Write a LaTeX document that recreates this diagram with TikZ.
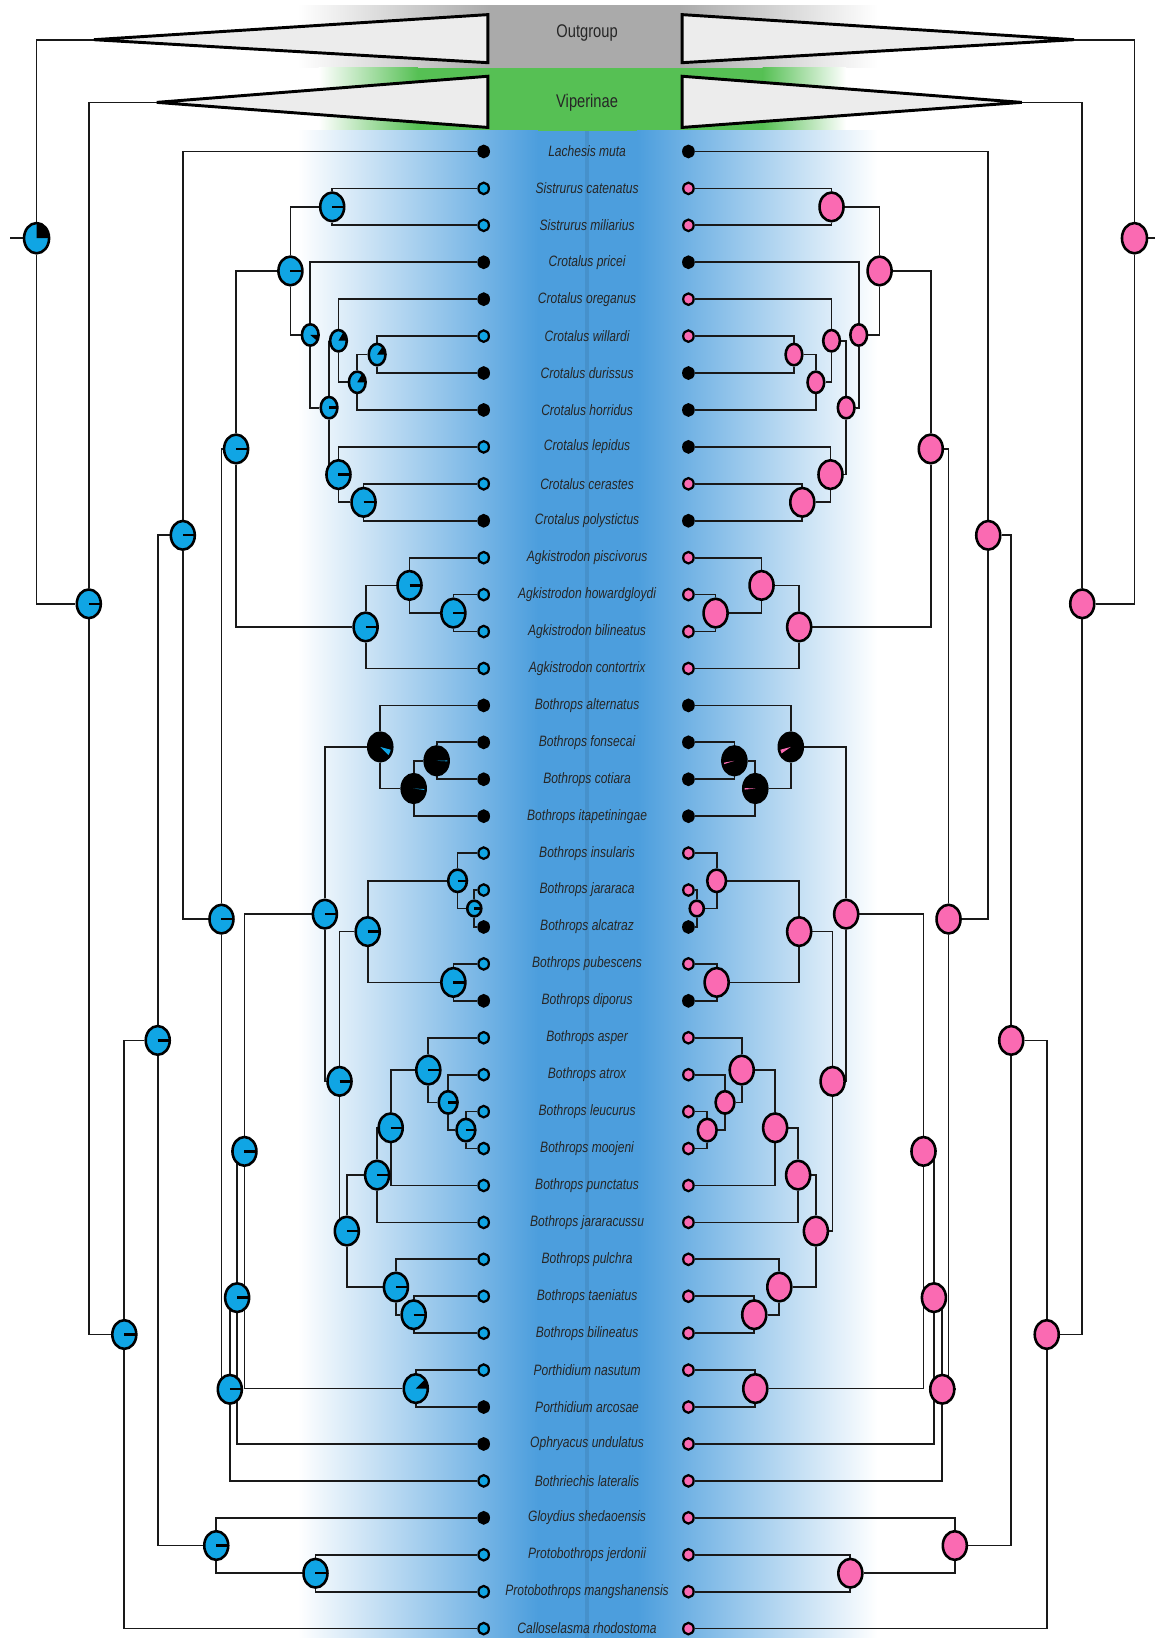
\documentclass[tikz,border=0pt]{standalone}
\usepackage{fontspec}
\setmainfont{Liberation Sans}
\newfontfamily\narrowsans{Liberation Sans}[FakeStretch=0.8]
\usetikzlibrary{shapes.geometric}

\definecolor{pieblue}{RGB}{16,165,228}
\definecolor{piepink}{RGB}{250,106,178}
\definecolor{bandblue}{RGB}{76,158,221}
\definecolor{bandgray}{RGB}{170,170,170}
\definecolor{bandgreen}{RGB}{86,192,84}
\definecolor{cladefill}{RGB}{236,236,236}

\pgfdeclarelayer{back}
\pgfdeclarelayer{lines}
\pgfsetlayers{back,lines,main}

\tikzset{
  branch/.style={line width=0.95pt, draw=black!90},
  anc/.style={ellipse, draw=black, line width=1.4pt, inner sep=0pt,
    minimum width=0.46cm, minimum height=0.55cm},
  bigpie/.style={minimum width=0.48cm, minimum height=0.58cm},
  stdpie/.style={},
  midpie/.style={minimum width=0.36cm, minimum height=0.43cm},
  smallpie/.style={minimum width=0.32cm, minimum height=0.41cm},
  tinypie/.style={minimum width=0.27cm, minimum height=0.3cm},
  leaf/.style={ellipse, draw=black, line width=1.2pt, inner sep=0pt,
    minimum width=0.2cm, minimum height=0.22cm},
  sliver/.style={path picture={\draw[line width=1.3pt]
    (path picture bounding box.center) -- (path picture bounding box.east);}},
  wedge/.style n args={3}{path picture={\fill[#1]
    (path picture bounding box.center) -- ++(#2:1cm)
    arc[start angle=#2, end angle=#3, radius=1cm] -- cycle;}},
  bpie/.style={fill=pieblue, sliver},
  ppie/.style={fill=piepink},
  % mixed states
  lrootpie/.style={fill=pieblue, wedge={black}{0}{90}},
  lpripie/.style={fill=pieblue, wedge={black}{-40}{0}},
  lorepie/.style={fill=pieblue, wedge={black}{0}{60}},
  lwdpie/.style={fill=pieblue, wedge={black}{0}{55}},
  lwdhpie/.style={fill=pieblue, wedge={black}{0}{60}},
  lporpie/.style={fill=pieblue, wedge={black}{0}{45}},
  laltpie/.style={fill=black, wedge={pieblue}{-45}{-15}},
  lfcpie/.style={fill=black, wedge={pieblue}{-3}{2}},
  litapie/.style={fill=black, wedge={pieblue}{-8}{-3}},
  raltpie/.style={fill=black, wedge={piepink}{195}{215}},
  rfcpie/.style={fill=black, wedge={piepink}{190}{198}},
  ritapie/.style={fill=black, wedge={piepink}{178}{186}},
  taxon/.style={font=\narrowsans\itshape\fontsize{8.2}{9}\selectfont,
    text=black!85, inner sep=0pt},
  clade/.style={font=\narrowsans\fontsize{10}{12}\selectfont,
    text=black!85, inner sep=0pt},
  collapsed/.style={draw=black, line width=1.6pt, fill=cladefill}
}

\begin{document}
\begin{tikzpicture}[x=0.02cm, y=-0.02cm]
  \useasboundingbox (0,0) rectangle (1109,1568);

  % colour bands
  \begin{pgfonlayer}{back}
    \shade[left color=white, right color=bandgray] (285,5) rectangle (470,65);
    \fill[bandgray] (470,5) rectangle (650,65);
    \shade[left color=bandgray, right color=white] (650,5) rectangle (840,65);
    \shade[left color=white, right color=bandgreen] (305,65) rectangle (400,125);
    \fill[bandgreen] (400,65) rectangle (730,125);
    \shade[left color=bandgreen, right color=white] (730,65) rectangle (810,125);
    \shade[left color=white, right color=bandblue] (285,125) rectangle (515,1568);
    \fill[bandblue] (515,125) rectangle (610,1568);
    \shade[left color=bandblue, right color=white] (610,125) rectangle (840,1568);
    \fill[bandblue!92!black] (560,125) rectangle (564,1568);
  \end{pgfonlayer}

  % tips and names
  \foreach \i/\lc/\rc/\sp in {
    1/black/black/Lachesis muta,
    2/pieblue/piepink/Sistrurus catenatus,
    3/pieblue/piepink/Sistrurus miliarius,
    4/black/black/Crotalus pricei,
    5/black/piepink/Crotalus oreganus,
    6/pieblue/piepink/Crotalus willardi,
    7/black/black/Crotalus durissus,
    8/black/black/Crotalus horridus,
    9/pieblue/black/Crotalus lepidus,
    10/pieblue/piepink/Crotalus cerastes,
    11/black/black/Crotalus polystictus,
    12/pieblue/piepink/Agkistrodon piscivorus,
    13/pieblue/piepink/Agkistrodon howardgloydi,
    14/pieblue/piepink/Agkistrodon bilineatus,
    15/pieblue/piepink/Agkistrodon contortrix,
    16/black/black/Bothrops alternatus,
    17/black/black/Bothrops fonsecai,
    18/black/black/Bothrops cotiara,
    19/black/black/Bothrops itapetiningae,
    20/pieblue/piepink/Bothrops insularis,
    21/pieblue/piepink/Bothrops jararaca,
    22/black/black/Bothrops alcatraz,
    23/pieblue/piepink/Bothrops pubescens,
    24/black/black/Bothrops diporus,
    25/pieblue/piepink/Bothrops asper,
    26/pieblue/piepink/Bothrops atrox,
    27/pieblue/piepink/Bothrops leucurus,
    28/pieblue/piepink/Bothrops moojeni,
    29/pieblue/piepink/Bothrops punctatus,
    30/pieblue/piepink/Bothrops jararacussu,
    31/pieblue/piepink/Bothrops pulchra,
    32/pieblue/piepink/Bothrops taeniatus,
    33/pieblue/piepink/Bothrops bilineatus,
    34/pieblue/piepink/Porthidium nasutum,
    35/black/piepink/Porthidium arcosae,
    36/black/piepink/Ophryacus undulatus,
    37/pieblue/piepink/Bothriechis lateralis,
    38/black/piepink/Gloydius shedaoensis,
    39/pieblue/piepink/Protobothrops jerdonii,
    40/pieblue/piepink/Protobothrops mangshanensis,
    41/pieblue/piepink/Calloselasma rhodostoma}{
    \pgfmathsetmacro\ty{145+(\i-1)*35.35}
    \node[leaf, fill=\lc] (l\i) at (463,\ty) {};
    \node[leaf, fill=\rc] (r\i) at (659,\ty) {};
    \node[taxon] (s\i) at (562,\ty) {\sp};
  }

  % ancestral state pies, left and right tree
  \foreach \n/\y/\xl/\xr/\sz/\ls/\rs in {
    sis/198.03/318/796/stdpie/bpie/ppie,
    wd/339.43/361/760/smallpie/lwdpie/ppie,
    wdh/365.94/342/781/smallpie/lwdhpie/ppie,
    ore/326.17/324/796/smallpie/lorepie/ppie,
    cp/480.83/348/768/stdpie/bpie/ppie,
    lep/454.31/324/795/stdpie/bpie/ppie,
    cro/390.24/315/810/smallpie/bpie/ppie,
    pri/320.65/297/822/smallpie/lpripie/ppie,
    sc/259.34/278/842/stdpie/bpie/ppie,
    hb/586.88/434/685/stdpie/bpie/ppie,
    pis/560.36/392/729/stdpie/bpie/ppie,
    agk/600.13/350/765/stdpie/bpie/ppie,
    nam/429.74/226/891/stdpie/bpie/ppie,
    fc/728.28/418/703/stdpie/lfcpie/rfcpie,
    ita/754.79/396/723/stdpie/litapie/ritapie,
    alt/715.02/364/757/stdpie/laltpie/raltpie,
    jal/869.68/454/667/tinypie/bpie/ppie,
    jar/843.16/438/686/midpie/bpie/ppie,
    pub/940.38/434/686/stdpie/bpie/ppie,
    jj/891.77/352/765/stdpie/bpie/ppie,
    mo/1081.78/446/677/midpie/bpie/ppie,
    atr/1055.26/429/694/midpie/bpie/ppie,
    asp/1024.33/410/710/stdpie/bpie/ppie,
    pun/1079.57/374/742/stdpie/bpie/ppie,
    jcu/1124.86/361/764/stdpie/bpie/ppie,
    tb/1258.53/396/722/stdpie/bpie/ppie,
    pul/1232.02/379/746/stdpie/bpie/ppie,
    atx/1178.44/332/781/stdpie/bpie/ppie,
    bot/1035.1/325/797/stdpie/bpie/ppie,
    bth/875.06/311/810/stdpie/bpie/ppie,
    por/1329.23/398/723/stdpie/lporpie/ppie,
    bp/1102.15/234/884/stdpie/bpie/ppie,
    oph/1242.2/227/894/stdpie/bpie/ppie,
    neo/1329.9/220/902/stdpie/bpie/ppie,
    crt/879.82/212/908/stdpie/bpie/ppie,
    lmu/512.41/175/946/stdpie/bpie/ppie,
    pro/1505.98/302/814/stdpie/bpie/ppie,
    glo/1479.47/207/914/stdpie/bpie/ppie,
    asia/995.94/151/968/stdpie/bpie/ppie,
    cal/1277.47/119/1002/stdpie/bpie/ppie,
    vip/578/85/1036/stdpie/bpie/ppie,
    root/228/35/1086/bigpie/lrootpie/ppie}{
    \node[anc, \sz, \ls] (l\n) at (\xl,\y) {};
    \node[anc, \sz, \rs] (r\n) at (\xr,\y) {};
  }

  % collapsed clades
  \coordinate (loutc) at (90,38);
  \coordinate (routc) at (1028,38);
  \coordinate (lvipc) at (150,98);
  \coordinate (rvipc) at (978,98);
  \coordinate (lstub) at (10,228);
  \coordinate (rstub) at (1106,228);
  \draw[collapsed] (loutc) -- (467,14) -- (467,60) -- cycle;
  \draw[collapsed] (routc) -- (653,14) -- (653,60) -- cycle;
  \draw[collapsed] (lvipc) -- (467,73) -- (467,122) -- cycle;
  \draw[collapsed] (rvipc) -- (653,73) -- (653,122) -- cycle;
  \node[clade] (outlab) at (562,32) {Outgroup};
  \node[clade] (viplab) at (562,98) {Viperinae};

  % branches
  \begin{pgfonlayer}{lines}
    \foreach \s in {l,r}{
      \foreach \p/\a/\b in {sis/2/3, wd/6/7, wdh/wd/8, ore/5/wdh, cp/10/11,
        lep/9/cp, cro/ore/lep, pri/4/cro, sc/sis/pri, hb/13/14, pis/12/hb,
        agk/pis/15, nam/sc/agk, fc/17/18, ita/fc/19, alt/16/ita, jal/21/22,
        jar/20/jal, pub/23/24, jj/jar/pub, mo/27/28, atr/26/mo, asp/25/atr,
        pun/asp/29, jcu/pun/30, tb/32/33, pul/31/tb, atx/jcu/pul, bot/jj/atx,
        bth/alt/bot, por/34/35, bp/bth/por, oph/bp/36, neo/oph/37,
        crt/nam/neo, lmu/1/crt, pro/39/40, glo/38/pro, asia/lmu/glo,
        cal/asia/41, vip/vipc/cal, root/outc/vip}
        \draw[branch] (\s\p) |- (\s\a) (\s\p) |- (\s\b);
    }
    \draw[branch] (lstub) -- (lroot);
    \draw[branch] (rroot) -- (rstub);
  \end{pgfonlayer}
\end{tikzpicture}
\end{document}
